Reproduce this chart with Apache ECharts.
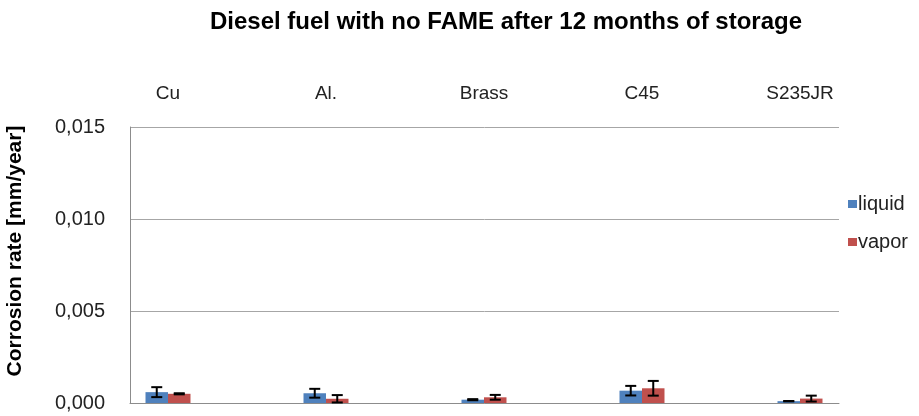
<!DOCTYPE html>
<html><head><meta charset="utf-8">
<script src="https://cdn.jsdelivr.net/npm/echarts@6/dist/echarts.min.js"></script>
<style>html,body{margin:0;padding:0;background:#fff}#c{width:919px;height:416px}</style>
</head><body><div id="c"></div>
<script>
const categories = ['Cu', 'Al.', 'Brass', 'C45', 'S235JR'];
const liquid = [0.00059, 0.00053, 0.00018, 0.00067, 0.00010];
const liquidErr = [0.00027, 0.00024, 0.00003, 0.00026, 0.00001];
const vapor = [0.00050, 0.00023, 0.00031, 0.00080, 0.00024];
const vaporErr = [0.00003, 0.00020, 0.00013, 0.00040, 0.00016];
const yTicks = [0, 0.005, 0.010, 0.015];

const FONT = 'Liberation Sans, Arial, sans-serif';
const BW = 22.5;
function errSeries(name, vals, errs, off) {
  return {
    type: 'custom', name: name + 'err', xAxisIndex: 1, yAxisIndex: 1, z: 10,
    data: vals.map((v, i) => [i, v, errs[i]]),
    renderItem: function (params, api) {
      const i = api.value(0), v = api.value(1), e = api.value(2);
      const c = api.coord([i, v]);
      const x = c[0] + off;
      const top = api.coord([i, v + e])[1];
      const bot = api.coord([i, Math.max(0, v - e)])[1];
      const hw = 5.5;
      const st = { stroke: '#000', lineWidth: 2 };
      return { type: 'group', children: [
        { type: 'line', shape: { x1: x, y1: top, x2: x, y2: bot }, style: st },
        { type: 'line', shape: { x1: x - hw, y1: top, x2: x + hw, y2: top }, style: st },
        { type: 'line', shape: { x1: x - hw, y1: bot, x2: x + hw, y2: bot }, style: st }
      ]};
    }
  };
}

const chart = echarts.init(document.getElementById('c'));
chart.setOption({
  animation: false,
  backgroundColor: '#fff',
  textStyle: { fontFamily: FONT },
  title: {
    text: 'Diesel fuel with no FAME after 12 months of storage',
    left: 501, top: 5, textAlign: 'center',
    textStyle: { fontSize: 24, fontWeight: 'bold', color: '#000', fontFamily: FONT }
  },
  legend: {
    orient: 'vertical', left: 843, top: 189, itemWidth: 9, itemHeight: 8, itemGap: 18,
    icon: 'rect', data: ['liquid', 'vapor'],
    textStyle: { fontSize: 20, color: '#222', padding: [0, 0, 0, -4] }
  },
  graphic: [{
    type: 'text', x: 15, y: 251, rotation: Math.PI / 2, origin: [0, 0],
    style: { text: 'Corrosion rate [mm/year]', fill: '#000',
      font: 'bold 21px Liberation Sans, Arial, sans-serif', align: 'center', verticalAlign: 'middle' }
  }],
  grid: [
    { left: 130, right: 80, top: 127, bottom: 13 },
    { left: 89, right: 40, top: 127, bottom: 13 }
  ],
  xAxis: [
    { type: 'category', gridIndex: 0, data: categories, show: true,
      axisLine: { show: true, lineStyle: { color: '#8c8c8c', width: 1 } },
      axisTick: { show: false }, axisLabel: { show: false } },
    { type: 'category', gridIndex: 1, data: categories, position: 'top',
      axisLine: { show: false }, axisTick: { show: false },
      axisLabel: { margin: 24, fontSize: 19, color: '#222' } }
  ],
  yAxis: [
    { type: 'value', gridIndex: 0, min: yTicks[0], max: yTicks[yTicks.length - 1], interval: 0.005,
      axisLine: { show: true, lineStyle: { color: '#8c8c8c', width: 1 } },
      axisTick: { show: false },
      splitLine: { show: true, lineStyle: { color: '#a6a6a6', width: 1 } },
      axisLabel: { margin: 25, fontSize: 20, color: '#222',
        formatter: v => v.toFixed(3).replace('.', ',') } },
    { type: 'value', gridIndex: 1, min: 0, max: 0.015, interval: 0.005, show: false }
  ],
  series: [
    { name: 'liquid', type: 'bar', xAxisIndex: 1, yAxisIndex: 1, data: liquid,
      barWidth: BW, barGap: '0%', itemStyle: { color: '#4F81BD' } },
    { name: 'vapor', type: 'bar', xAxisIndex: 1, yAxisIndex: 1, data: vapor,
      barWidth: BW, barGap: '0%', itemStyle: { color: '#C0504D' } },
    errSeries('liquid', liquid, liquidErr, -BW / 2),
    errSeries('vapor', vapor, vaporErr, BW / 2)
  ]
});
</script></body></html>
